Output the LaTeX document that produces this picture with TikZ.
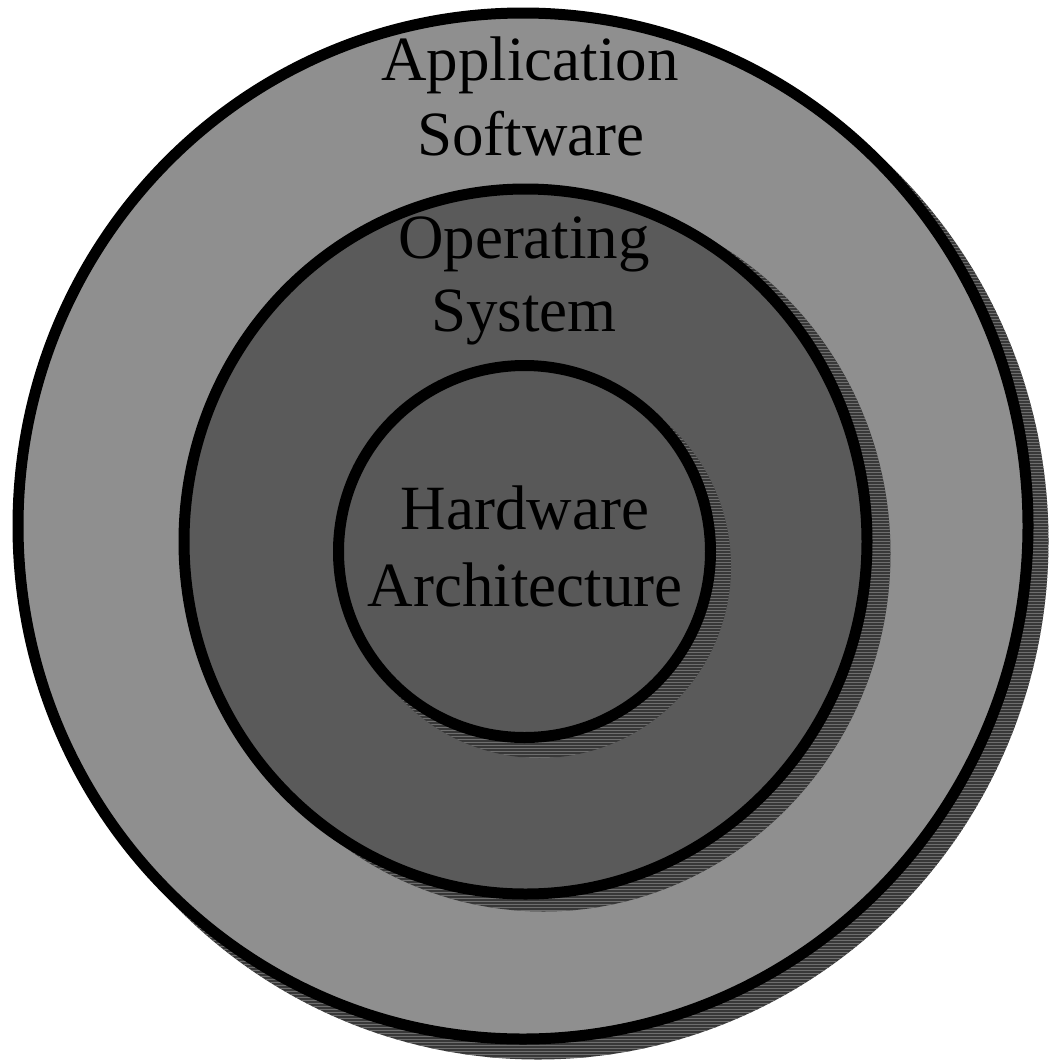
\documentclass[tikz,border=0pt]{standalone}
\usepackage{fontspec}
\setmainfont{Liberation Serif}
\usetikzlibrary{patterns,calc}
\definecolor{outerfill}{HTML}{8F8F8F}
\definecolor{midfill}{HTML}{5A5A5A}
\definecolor{innerfill}{HTML}{585858}
\definecolor{shadowdark}{HTML}{383838}
\definecolor{shadowlight}{HTML}{6E6E6E}
\tikzset{
  ringline/.style={draw=black, line width=11pt},
  shadowfill/.style={fill=shadowdark, draw=none},
  shadowstripes/.style={pattern=horizontal lines, pattern color=shadowlight, draw=none},
  label/.style={font=\fontsize{63}{75}\selectfont, inner sep=0pt, anchor=base, text=black},
}
\begin{document}
\begin{tikzpicture}[x=1pt,y=-1pt]
\useasboundingbox (0,0) rectangle (1050,1061);
\fill[white] (0,0) rectangle (1050,1061);
% centres
\coordinate (co) at (523,526);
\coordinate (cm) at (525.5,541.5);
\coordinate (ci) at (524.5,551.5);
% outer ring
\fill[shadowfill] ($(co)+(15,15)$) ellipse [x radius=510.5pt, y radius=518.5pt];
\fill[shadowstripes] ($(co)+(15,15)$) ellipse [x radius=510.5pt, y radius=518.5pt];
\draw[ringline, fill=outerfill] (co) ellipse [x radius=505pt, y radius=513pt];
% middle ring
\fill[shadowfill] ($(cm)+(18,12)$) ellipse [x radius=347pt, y radius=358pt];
\fill[shadowstripes] ($(cm)+(18,12)$) ellipse [x radius=347pt, y radius=358pt];
\draw[ringline, fill=midfill] (cm) ellipse [x radius=341.5pt, y radius=352.5pt];
% inner ring
\fill[shadowfill] ($(ci)+(15,15)$) circle [radius=191.5pt];
\fill[shadowstripes] ($(ci)+(15,15)$) circle [radius=191.5pt];
\draw[ringline, fill=innerfill] (ci) circle [radius=186pt];
% labels
\node[label] (app1) at (530,80) {Application};
\node[label] (app2) at (531,155) {Software};
\node[label] (os1) at (524,258) {Operating};
\node[label] (os2) at (524,331) {System};
\node[label] (hw1) at (525,529) {Hardware};
\node[label] (hw2) at (525,606) {Architecture};
\end{tikzpicture}
\end{document}
